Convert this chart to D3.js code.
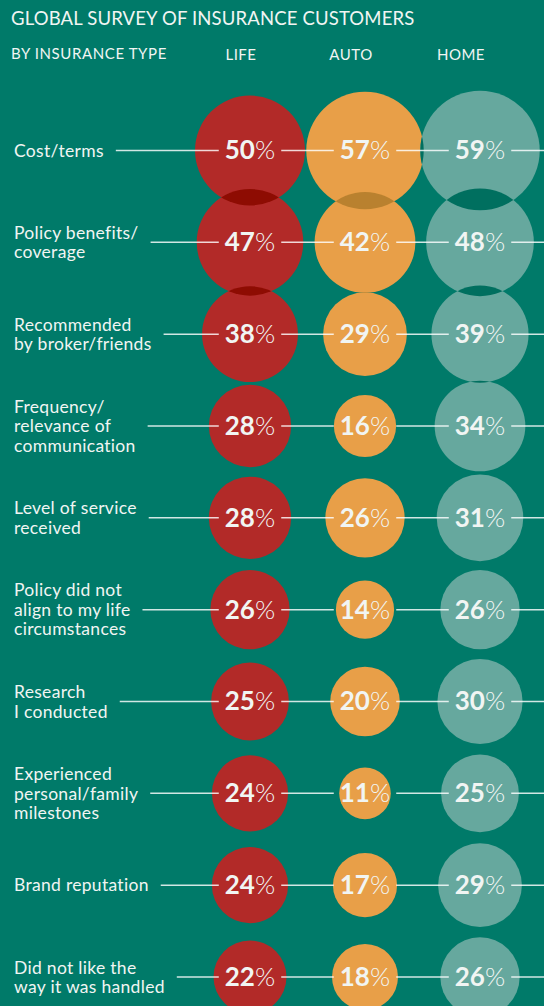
<!DOCTYPE html>
<html>
<head>
<meta charset="utf-8">
<script src="https://cdn.jsdelivr.net/npm/d3@7"></script>
<style>
  html, body { margin: 0; padding: 0; background: #007A69; }
  svg { display: block; }
  text { font-family: Lato, "Open Sans", sans-serif; fill: #F1F5F3; }
</style>
</head>
<body>
<svg id="chart" width="544" height="1006"></svg>
<script>
// Survey reasons (label lines) and shares per insurance type, in percent
const reasons = [
  ["Cost/terms"],
  ["Policy benefits/", "coverage"],
  ["Recommended", "by broker/friends"],
  ["Frequency/", "relevance of", "communication"],
  ["Level of service", "received"],
  ["Policy did not", "align to my life", "circumstances"],
  ["Research", "I conducted"],
  ["Experienced", "personal/family", "milestones"],
  ["Brand reputation"],
  ["Did not like the", "way it was handled"]
];
const types = ["LIFE", "AUTO", "HOME"];
const lifeValues = [50, 47, 38, 28, 28, 26, 25, 24, 24, 22];
const autoValues = [57, 42, 29, 16, 26, 14, 20, 11, 17, 18];
const homeValues = [59, 48, 39, 34, 31, 26, 30, 25, 29, 26];

const title = "GLOBAL SURVEY OF INSURANCE CUSTOMERS";
const subtitle = "BY INSURANCE TYPE";

const W = 544, H = 1006;
const fillColor = { LIFE: "#B22A28", AUTO: "#E89F48", HOME: "#66A89E" };
const overlapColor = { LIFE: "#8E0C02", AUTO: "#B9812F", HOME: "#006F5F" };

const svg = d3.select("#chart");
svg.append("rect").attr("width", W).attr("height", H).attr("fill", "#007A69");

const rowIdx = d3.range(reasons.length);
const y = d3.scalePoint().domain(rowIdx).range([150.5, 977]);
const x = d3.scalePoint().domain(types).range([250, 480]);
const xHead = d3.scalePoint().domain(types).range([241, 461]);
const r = d3.scaleSqrt().domain([0, 50]).range([0, 55]);

const valuesByType = { LIFE: lifeValues, AUTO: autoValues, HOME: homeValues };
const bubbles = [];
types.forEach(t => rowIdx.forEach(i => {
  bubbles.push({ type: t, row: i, value: valuesByType[t][i],
                 cx: x(t), cy: y(i), r: r(valuesByType[t][i]) });
}));

// Headings
svg.append("text").attr("x", 11).attr("y", 25)
  .attr("font-size", 18.5).attr("letter-spacing", 0.15).text(title);
svg.append("text").attr("x", 11).attr("y", 58.5)
  .attr("font-size", 15).attr("letter-spacing", 0.6).text(subtitle);
svg.selectAll("text.colhead").data(types).join("text")
  .attr("class", "colhead")
  .attr("x", d => xHead(d)).attr("y", 60)
  .attr("text-anchor", "middle")
  .attr("font-size", 15).attr("letter-spacing", 0.5)
  .text(d => d);

// Bubbles
const gB = svg.append("g");
gB.selectAll("circle").data(bubbles).join("circle")
  .attr("cx", d => d.cx).attr("cy", d => d.cy).attr("r", d => d.r)
  .attr("fill", d => fillColor[d.type]);

// Darker lens wherever two bubbles overlap
const defs = svg.append("defs");
const pairs = [];
for (let a = 0; a < bubbles.length; a++) {
  for (let b = a + 1; b < bubbles.length; b++) {
    const p = bubbles[a], q = bubbles[b];
    const dist = Math.hypot(p.cx - q.cx, p.cy - q.cy);
    if (dist < p.r + q.r) pairs.push([p, q]);
  }
}
pairs.forEach(([p, q], k) => {
  const id = "lens" + k;
  defs.append("clipPath").attr("id", id)
    .append("circle").attr("cx", p.cx).attr("cy", p.cy).attr("r", p.r);
  const right = p.cx >= q.cx ? p : q;
  gB.append("circle")
    .attr("cx", q.cx).attr("cy", q.cy).attr("r", q.r)
    .attr("clip-path", `url(#${id})`)
    .attr("fill", overlapColor[right.type]);
});

// Row labels
const gL = svg.append("g");
const lineH = 19.5;
const labelEnds = [];
rowIdx.forEach(i => {
  const lines = reasons[i];
  const t = gL.append("text")
    .attr("x", 14)
    .attr("y", y(i) - (lines.length - 1) * lineH / 2)
    .attr("font-size", 17.5)
    .attr("letter-spacing", 0.3);
  t.selectAll("tspan").data(lines).join("tspan")
    .attr("x", 14)
    .attr("dy", (d, j) => j === 0 ? "0.36em" : lineH)
    .text(d => d);
  let maxW = 0;
  t.selectAll("tspan").each(function () {
    maxW = Math.max(maxW, this.getComputedTextLength());
  });
  labelEnds.push(14 + maxW);
});

// Value labels
const gV = svg.append("g");
const valueExtents = {};
bubbles.forEach(d => {
  const t = gV.append("text")
    .attr("x", d.cx).attr("y", d.cy)
    .attr("dy", "0.34em")
    .attr("text-anchor", "middle")
    .attr("font-size", 26);
  t.append("tspan").attr("font-weight", 700).text(d.value);
  t.append("tspan").attr("font-weight", 300).text("%");
  const bb = t.node().getBBox();
  (valueExtents[d.row] = valueExtents[d.row] || []).push([bb.x, bb.x + bb.width]);
});

// Leader lines, broken around each value label
const gap = 6;
const gLines = svg.insert("g", () => gV.node());
rowIdx.forEach(i => {
  const stops = valueExtents[i].slice().sort((a, b) => a[0] - b[0]);
  let start = labelEnds[i] + 12;
  const segs = [];
  stops.forEach(([a, b]) => {
    segs.push([start, a - gap]);
    start = b + gap;
  });
  segs.push([start, W]);
  gLines.selectAll(null).data(segs).join("line")
    .attr("x1", s => s[0]).attr("x2", s => s[1])
    .attr("y1", y(i)).attr("y2", y(i))
    .attr("stroke", "#FFFFFF").attr("stroke-opacity", 0.82)
    .attr("stroke-width", 1.5);
});
</script>
</body>
</html>
